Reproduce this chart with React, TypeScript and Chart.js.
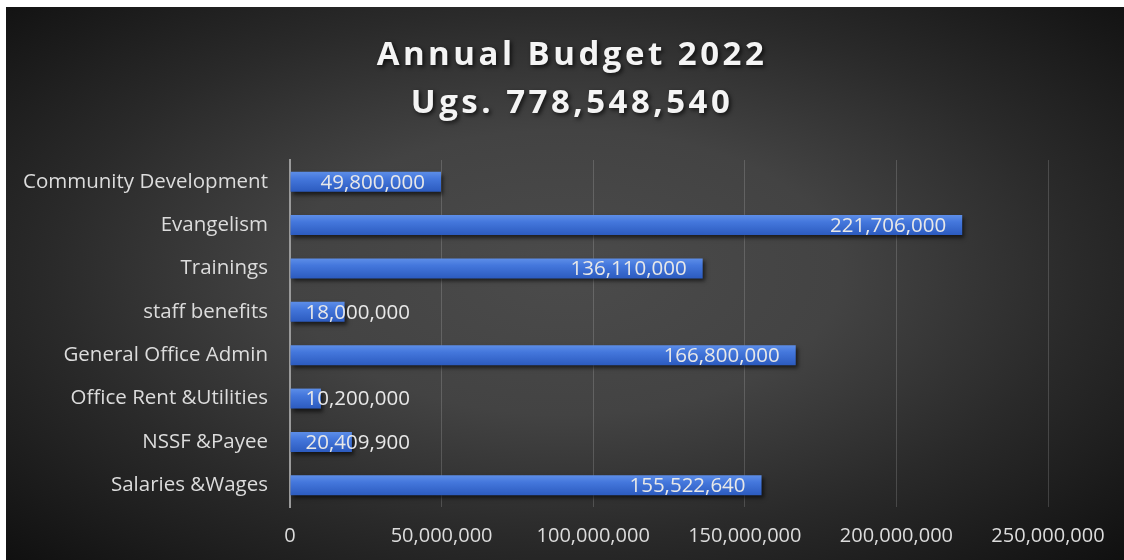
import React, { useEffect, useRef } from "react";
import { Chart, registerables } from "chart.js";

Chart.register(...registerables);

const categories = [
  "Community Development",
  "Evangelism",
  "Trainings",
  "staff benefits",
  "General Office Admin",
  "Office Rent &Utilities",
  "NSSF &Payee",
  "Salaries &Wages",
];
const values = [49800000, 221706000, 136110000, 18000000, 166800000, 10200000, 20409900, 155522640];
const xMin = 0;
const xMax = 250000000;
const xStep = 50000000;
const titleLines = ["Annual Budget 2022", "Ugs. 778,548,540"];

const FONT = "'Open Sans', 'Noto Sans', sans-serif";
const BAR_PCT = 0.46;

const fmt = (v: number) => Number(v).toLocaleString("en-US");

const titlePlugin = {
  id: "customTitle",
  afterDraw(chart: any) {
    const ctx = chart.ctx as CanvasRenderingContext2D;
    ctx.save();
    ctx.font = `bold 33px ${FONT}`;
    (ctx as any).letterSpacing = "3.5px";
    ctx.fillStyle = "#f4f4f4";
    ctx.textAlign = "center";
    ctx.textBaseline = "middle";
    ctx.shadowColor = "rgba(0,0,0,0.7)";
    ctx.shadowBlur = 4;
    ctx.shadowOffsetX = 2;
    ctx.shadowOffsetY = 2;
    const cx = 566;
    ctx.fillText(titleLines[0], cx, 49);
    ctx.fillText(titleLines[1], cx, 97);
    ctx.restore();
  },
};

const shadowPlugin = {
  id: "barShadow",
  beforeDatasetsDraw(chart: any) {
    const ctx = chart.ctx;
    ctx.save();
    ctx.shadowColor = "rgba(0,0,0,0.6)";
    ctx.shadowBlur = 4;
    ctx.shadowOffsetX = 2;
    ctx.shadowOffsetY = 3;
  },
  afterDatasetsDraw(chart: any) {
    chart.ctx.restore();
  },
};

const labelPlugin = {
  id: "barLabels",
  afterDatasetsDraw(chart: any) {
    const ctx = chart.ctx as CanvasRenderingContext2D;
    const meta = chart.getDatasetMeta(0);
    ctx.save();
    ctx.font = `20.5px ${FONT}`;
    ctx.fillStyle = "#e8e8e8";
    ctx.textAlign = "right";
    ctx.textBaseline = "middle";
    meta.data.forEach((bar: any, i: number) => {
      const { x, y, base } = bar.getProps(["x", "y", "base"], true);
      const text = fmt(values[i]);
      const w = ctx.measureText(text).width;
      const right = Math.max(x - 16, base + 15 + w);
      ctx.fillText(text, right, y + 1);
    });
    ctx.restore();
  },
};

export default function App() {
  const ref = useRef<HTMLCanvasElement>(null);
  useEffect(() => {
    if (!ref.current) return;
    const chart = new Chart(ref.current, {
      type: "bar",
      data: {
        labels: categories,
        datasets: [
          {
            data: values,
            backgroundColor: (c: any) => {
              const ch = c.chart;
              const ys = ch.scales && ch.scales.y;
              if (!ys || c.dataIndex === undefined || !ys.height) return "#3f72d6";
              const yc = ys.getPixelForValue(c.dataIndex);
              const half = (ys.height / categories.length) * BAR_PCT / 2;
              const g = ch.ctx.createLinearGradient(0, yc - half, 0, yc + half);
              g.addColorStop(0, "#5d8ee8");
              g.addColorStop(0.35, "#4477dc");
              g.addColorStop(1, "#2c5bbf");
              return g;
            },
            borderWidth: 0,
            categoryPercentage: 1,
            barPercentage: BAR_PCT,
          },
        ],
      },
      options: {
        indexAxis: "y",
        animation: false,
        responsive: true,
        maintainAspectRatio: false,
        layout: { padding: { top: 153, right: 76, left: 0, bottom: 0 } },
        plugins: {
          legend: { display: false },
          title: { display: false },
          tooltip: { enabled: false },
        },
        scales: {
          x: {
            min: xMin,
            max: xMax,
            ticks: {
              stepSize: xStep,
              color: "#dcdcdc",
              font: { family: FONT, size: 20 },
              padding: 17,
              callback: (v: any) => fmt(v),
              maxRotation: 0,
            },
            grid: {
              color: "rgba(255,255,255,0.16)",
              lineWidth: 1,
              drawTicks: false,
            },
            border: { display: false },
            afterFit: (s: any) => {
              s.height = 53;
            },
          },
          y: {
            ticks: {
              color: "#dcdcdc",
              font: { family: FONT, size: 20.5 },
              padding: 22,
            },
            grid: { display: false, drawTicks: false },
            border: { display: true, color: "#9a9a9a", width: 2 },
            afterFit: (s: any) => {
              s.width = 284;
            },
          },
        },
      },
      plugins: [shadowPlugin, labelPlugin, titlePlugin],
    } as any);
    return () => chart.destroy();
  }, []);

  return (
    <div
      style={{
        position: "absolute",
        left: 6,
        top: 7,
        width: 1118,
        height: 553,
        background:
          "radial-gradient(ellipse farthest-corner at 50% 48%, #4b4b4b 0%, #434343 35%, #2a2a2a 65%, #101010 100%)",
      }}
    >
      <canvas ref={ref} style={{ width: "100%", height: "100%" }} />
    </div>
  );
}
